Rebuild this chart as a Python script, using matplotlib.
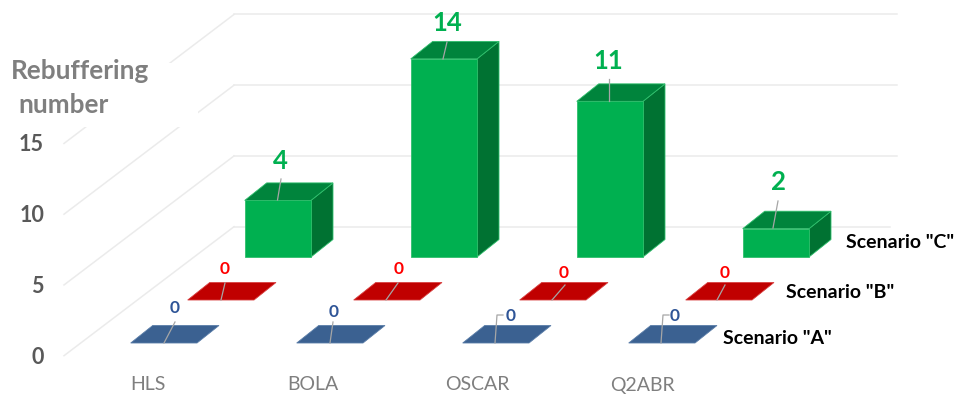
import matplotlib
matplotlib.use("Agg")
import matplotlib.pyplot as plt
from matplotlib.patches import Polygon, Rectangle

plt.rcParams["font.family"] = ["Lato", "DejaVu Sans"]

# ---------- data ----------
categories = ["HLS", "BOLA", "OSCAR", "Q2ABR"]
scenario_a = [0, 0, 0, 0]
scenario_b = [0, 0, 0, 0]
scenario_c = [4, 14, 11, 2]
y_ticks = [0, 5, 10, 15]
scenario_names = ['Scenario "A"', 'Scenario "B"', 'Scenario "C"']

# ---------- oblique projection, picture pixels ----------
X0, Y0 = 130.7, 343.0
CAT_DX = 166.0
SER_DX, SER_DY = 57.0, -43.0
BAR_W = 66.3
DEPTH_DX, DEPTH_DY = 22.0, -17.5
UNIT = 14.15
WALL_X0, WALL_Y0 = 64.0, 355.7
WALL_X1, WALL_Y1 = 234.0, 226.7
GRID_END = 897.0
FLOOR_END = 890.0
GRID = "#ebebeb"
LEADER = "#a6a6a6"

def corner(cat, ser, val):
    return X0 + CAT_DX * cat + SER_DX * ser, Y0 + SER_DY * ser - UNIT * val

def bar(ax, cat, ser, val, front, top, side, edge):
    x, y = corner(cat, ser, val)
    _, base = corner(cat, ser, 0)
    w, dx, dy = BAR_W, DEPTH_DX, DEPTH_DY
    if val > 0:
        ax.add_patch(Polygon([(x + w, y), (x + w + dx, y + dy), (x + w + dx, base + dy), (x + w, base)],
                             fc=side, ec=edge, lw=0.6, zorder=3))
        ax.add_patch(Rectangle((x, y), w, base - y, fc=front, ec=edge, lw=0.6, zorder=3))
    ax.add_patch(Polygon([(x, y), (x + dx, y + dy), (x + w + dx, y + dy), (x + w, y)],
                         fc=top, ec=edge, lw=0.6, zorder=3))

fig = plt.figure(figsize=(9.55, 3.97), dpi=100)
ax = fig.add_axes([0, 0, 1, 1])
ax.set_xlim(0, 955)
ax.set_ylim(397, 0)
ax.axis("off")

# ---------- walls ----------
for t in y_ticks:
    h = UNIT * t
    ax.plot([WALL_X0, WALL_X1], [WALL_Y0 - h, WALL_Y1 - h], color=GRID, lw=1.1, zorder=1)
    end = FLOOR_END if t == 0 else GRID_END
    ax.plot([WALL_X1, end], [WALL_Y1 - h, WALL_Y1 - h], color=GRID, lw=1.1, zorder=1)
    ax.text(44, WALL_Y0 - h + 1.5, str(t), color="#595959", fontsize=15.5, fontweight="bold",
            ha="right", va="center", zorder=5)

# axis title sits on a white box that cuts the wall lines
ax.add_patch(Rectangle((0, 63), 198, 64, fc="white", ec="none", zorder=2))
ax.text(79.5, 71, "Rebuffering", color="#7f7f7f", fontsize=18.8, fontweight="bold",
        ha="center", va="center", zorder=5)
ax.text(63.5, 105, "number", color="#7f7f7f", fontsize=18.8, fontweight="bold",
        ha="center", va="center", zorder=5)

# ---------- bars ----------
styles = [
    (scenario_c, 2, "#00b050", "#00843c", "#007232", "#2fbf6c"),
    (scenario_b, 1, "#c00000", "#c00000", "#c00000", "#d84040"),
    (scenario_a, 0, "#3b6191", "#3b6191", "#3b6191", "#5a7da8"),
]
for vals, ser, front, top, side, edge in styles:
    for cat, v in enumerate(vals):
        bar(ax, cat, ser, v, front, top, side, edge)

# ---------- data labels and leader lines ----------
green_pos = [(280, 161), (447, 23), (608, 61), (778, 182)]
green_lead = [[(277.5, 200), (281, 179)], [(443, 59), (447, 42)], [(609, 101), (609, 79)], [(773, 228), (778, 201)]]
red_pos = [(225, 269), (399, 269), (564, 273), (725, 273)]
red_lead = [[(221, 300), (225, 283)], [(386, 300), (398, 283)], [(552, 300), (565, 285)], [(717, 300), (725, 285)]]
blue_pos = [(174.5, 308), (334, 312), (511, 316), (675, 316)]
blue_lead = [[(164, 343), (175, 322)], [(330, 343), (333, 322)],
             [(495, 343), (497, 315), (503, 315)], [(661, 343), (663, 315), (669, 315)]]

for vals, pos, lead, col, size in [(scenario_c, green_pos, green_lead, "#00b050", 18.5),
                                   (scenario_b, red_pos, red_lead, "#ff0000", 12.5),
                                   (scenario_a, blue_pos, blue_lead, "#2f5597", 12.5)]:
    for v, (x, y), pts in zip(vals, pos, lead):
        ax.text(x, y, str(v), color=col, fontsize=size, fontweight="bold", ha="center", va="center", zorder=6)
        ax.plot([p[0] for p in pts], [p[1] for p in pts], color=LEADER, lw=0.9, zorder=4)

# ---------- axis labels ----------
cat_left = [130.5, 287.5, 445.5, 610]
for name, x in zip(categories, cat_left):
    ax.text(x, 385, name, color="#7f7f7f", fontsize=14, ha="left", va="center", zorder=5)

series_pos = [(723, 338), (785.7, 293), (845.7, 242)]
for name, (x, y) in zip(scenario_names, series_pos):
    ax.text(x, y, name, color="black", fontsize=14, fontweight="bold", ha="left", va="center", zorder=5)

fig.savefig("out.png", dpi=100)
